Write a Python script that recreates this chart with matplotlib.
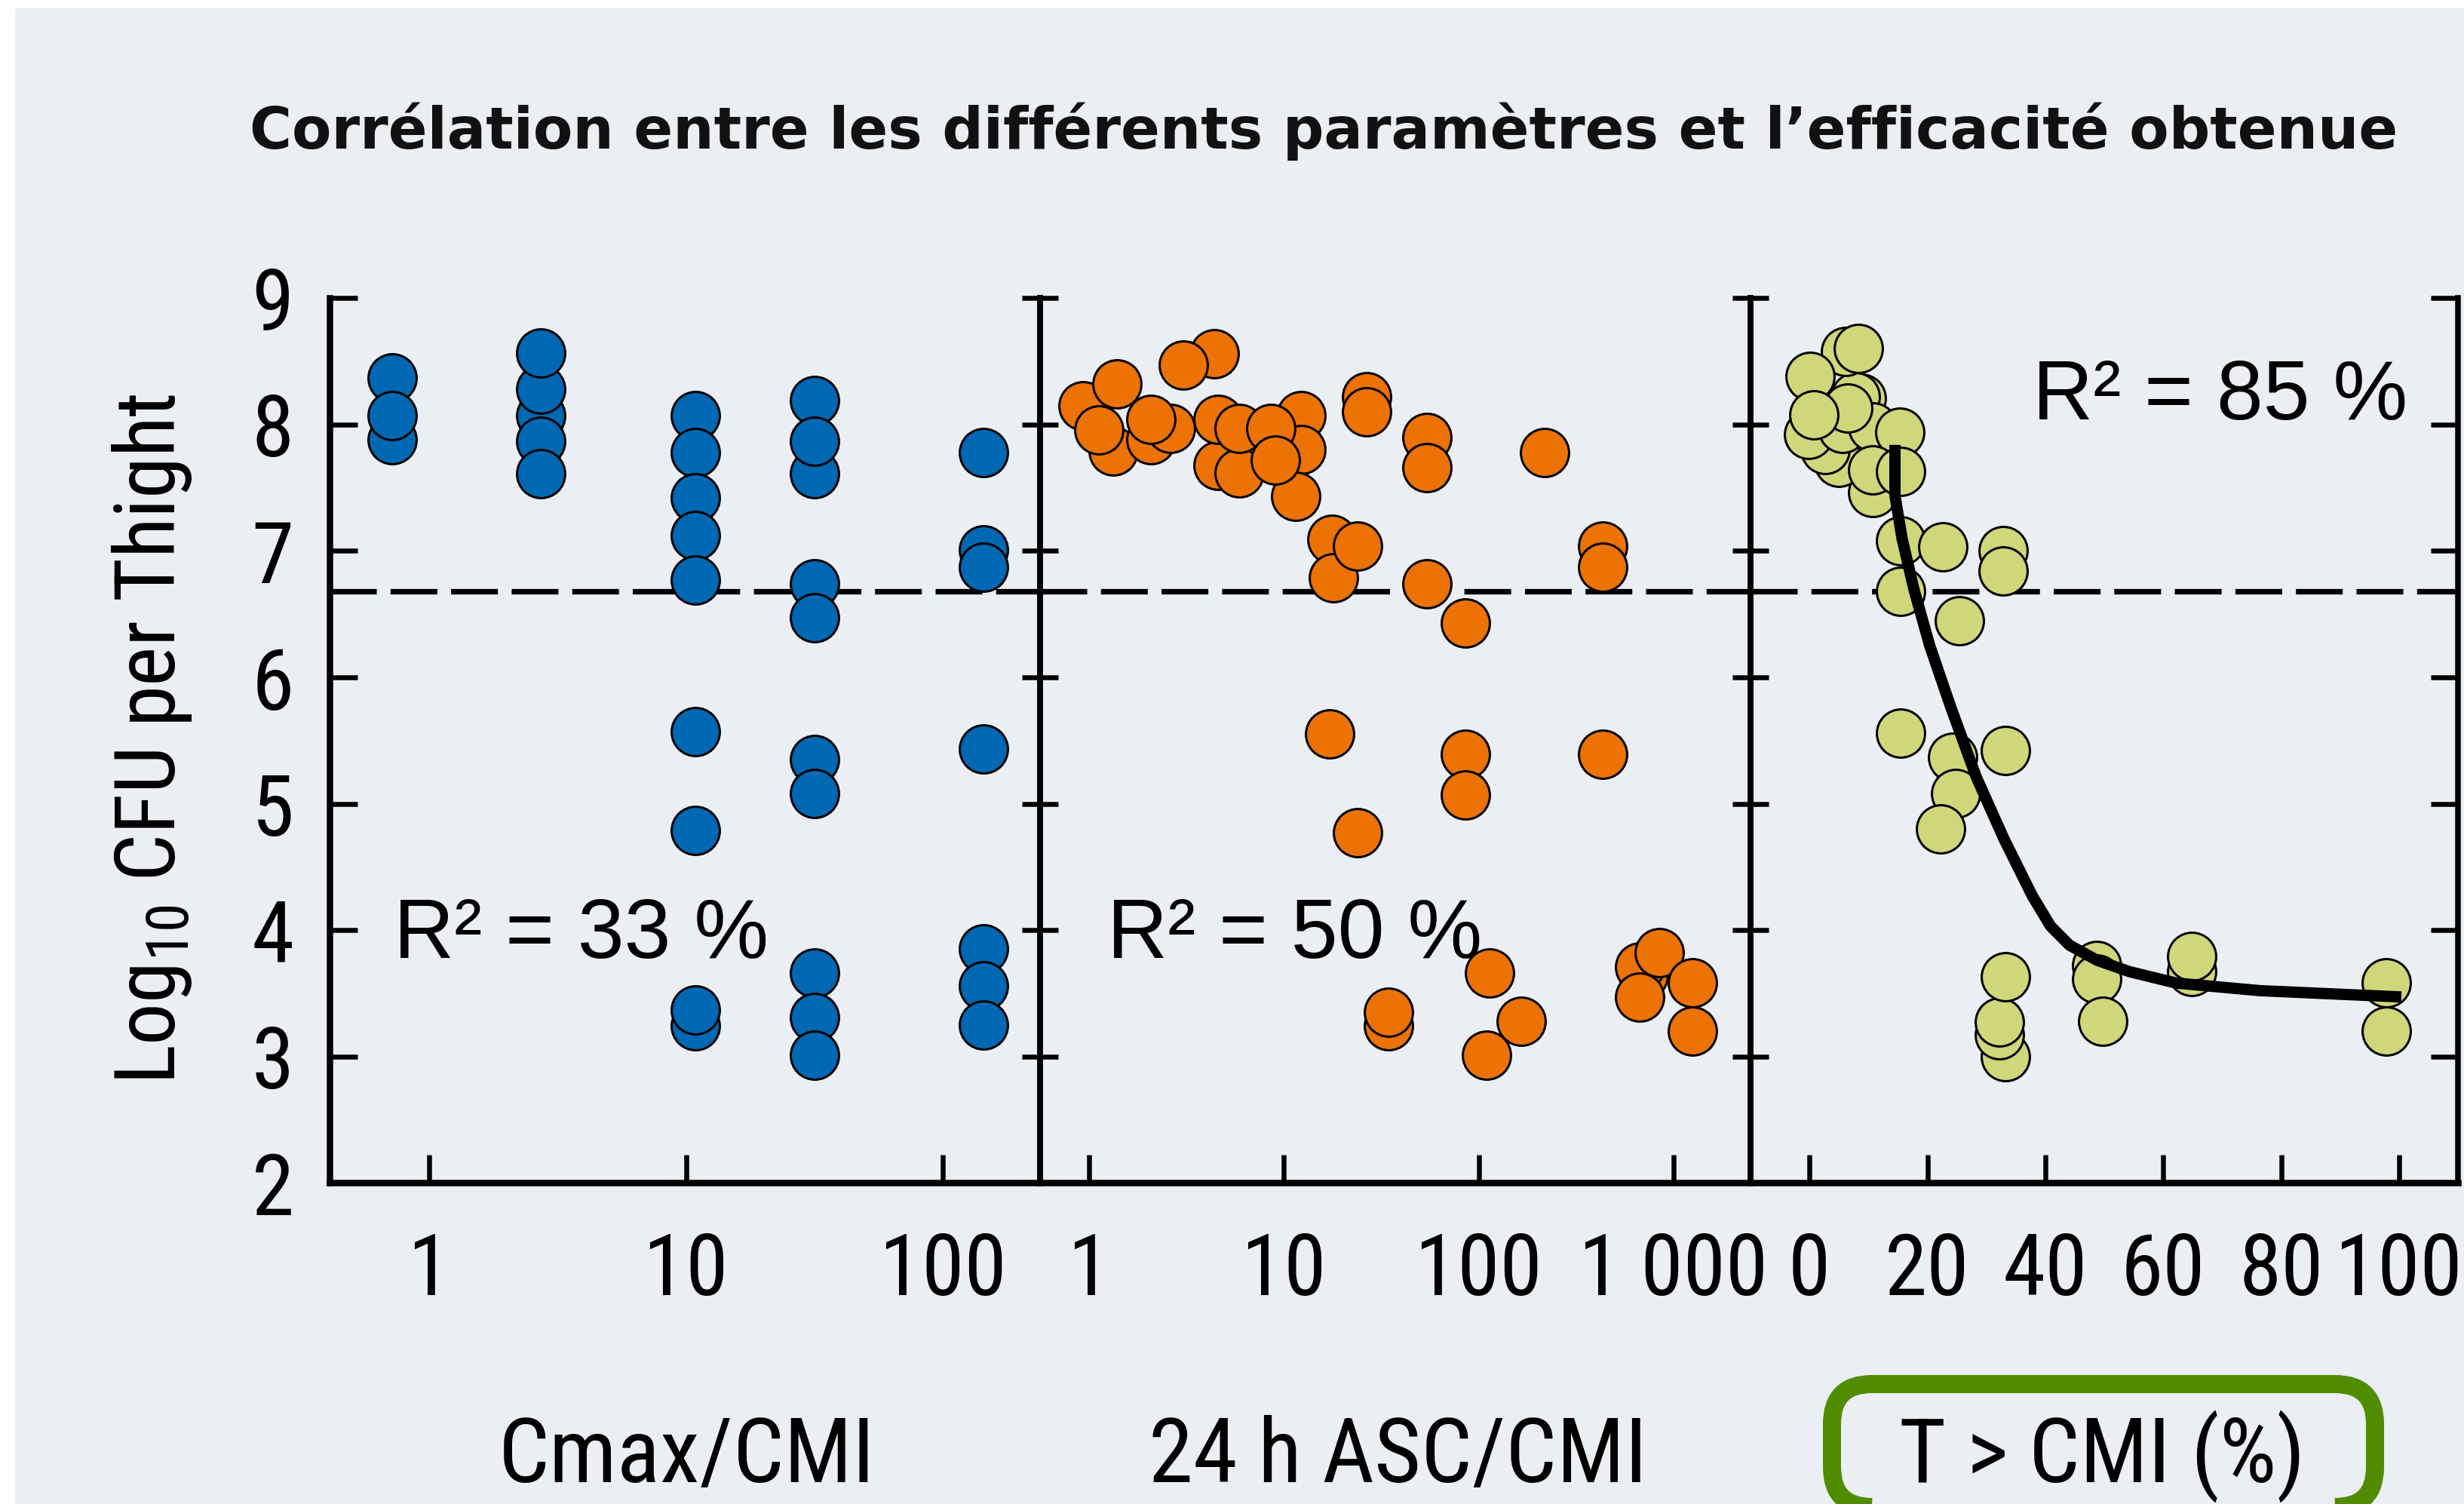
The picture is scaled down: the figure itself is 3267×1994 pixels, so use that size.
import os
import matplotlib
matplotlib.use('Agg')
import matplotlib.pyplot as plt
from matplotlib import font_manager
from matplotlib.font_manager import FontProperties
from matplotlib.patches import FancyBboxPatch, Rectangle
from matplotlib.ticker import FixedLocator, NullLocator


def find_narrow_font():
    """Pick a regular condensed/narrow face among the installed fonts."""
    order = ['liberation', 'roboto', 'dejavu', 'noto', 'opensans', 'open']
    found = []
    for f in font_manager.fontManager.ttflist:
        base = os.path.basename(f.fname).lower().replace(' ', '')
        if not ('narrow' in base or 'condensed' in base):
            continue
        if f.style != 'normal' or f.weight != 400:
            continue
        if any(w in base for w in ('bold', 'italic', 'light', 'medium', 'semi', 'extra', 'black', 'thin', 'oblique')):
            continue
        rank = next((i for i, key in enumerate(order) if base.startswith(key)), len(order))
        found.append((rank, f.fname))
    return FontProperties(fname=sorted(found)[0][1]) if found else FontProperties(family='DejaVu Sans')


NARROW = find_narrow_font()
plt.rcParams['font.family'] = 'Liberation Sans'

# Cmax/CMI panel
cmax_x = [0.72, 0.72, 0.72,
          2.72, 2.72, 2.72, 2.72, 2.72,
          10.9, 10.9, 10.9, 10.9, 10.9, 10.9, 10.9, 10.9, 10.9,
          31.6, 31.6, 31.6, 31.6, 31.6, 31.6, 31.6, 31.6, 31.6, 31.6,
          143.7, 143.7, 143.7, 143.7, 143.7, 143.7, 143.7]
cmax_y = [8.37, 7.88, 8.07,
          8.07, 7.87, 7.61, 8.28, 8.57,
          8.07, 7.78, 7.42, 7.12, 6.77, 5.57, 4.79, 3.24, 3.37,
          7.61, 8.19, 7.87, 6.74, 6.47, 5.35, 5.08, 3.66, 3.31, 3.01,
          7.78, 7.01, 6.87, 5.43, 3.85, 3.56, 3.25]

# 24 h ASC/CMI panel
auc_x = [0.93, 1.33, 1.39, 1.12, 2.08, 2.61, 2.08, 4.38, 3.04, 4.58, 5.90, 4.58, 5.90,
         12.2, 12.2, 11.5, 8.55, 9.08, 17.7, 17.9, 23.9,
         26.7, 26.7, 54.4, 54.4, 54.4, 85.3, 217, 434, 434,
         17.2, 23.9, 85.3, 85.3, 434,
         34.5, 34.5, 114, 165, 109.6,
         699, 671, 848, 671, 1256, 1256]
auc_y = [8.15, 7.79, 8.32, 7.96, 7.88, 7.97, 8.04, 8.56, 8.47, 7.68, 7.62, 8.04, 7.97,
         8.07, 7.80, 7.43, 7.97, 7.72, 7.09, 6.79, 7.04,
         8.22, 8.10, 7.90, 7.66, 6.74, 6.43, 7.78, 7.04, 6.87,
         5.55, 4.77, 5.39, 5.07, 5.39,
         3.24, 3.35, 3.66, 3.28, 3.01,
         3.64, 3.71, 3.82, 3.47, 3.58, 3.20]

# T > CMI (%) panel
tmic_x = [10.7, 5.0, 2.7, -0.1, 5.6, 8.8, 7.8, 6.1, 8.3, 0.1, 10.7, 6.5, 0.8,
          15.3, 10.7, 15.5, 15.5, 22.6, 32.8, 32.8, 15.5, 25.5,
          15.4, 24.3, 33.2, 24.8, 22.2,
          33.2, 32.2, 32.2, 33.2,
          48.7, 48.7, 49.7, 64.9, 64.9, 97.9, 97.9]
tmic_y = [7.46, 7.70, 7.80, 7.92, 7.97, 8.21, 8.22, 8.58, 8.60, 8.38, 7.98, 8.13, 8.08,
          7.94, 7.64, 7.63, 7.08, 7.03, 7.00, 6.84, 6.68, 6.45,
          5.56, 5.37, 5.42, 5.08, 4.80,
          3.00, 3.17, 3.27, 3.63,
          3.72, 3.61, 3.28, 3.67, 3.79, 3.58, 3.20]

# fitted sigmoid for T > CMI
curve_x = [14.5, 14.5, 15.7, 17.7, 20.4, 24.0, 28.3, 33.0, 37.8, 40.9, 44.1, 48.8, 54.3, 62.2, 76.4, 100.4]
curve_y = [7.84, 7.44, 7.10, 6.70, 6.25, 5.76, 5.21, 4.72, 4.27, 4.03, 3.88, 3.76, 3.67, 3.58, 3.52, 3.47]

threshold = 6.68
r2_values = [33, 50, 85]
panel_titles = ['Cmax/CMI', '24 h ASC/CMI', 'T > CMI (%)']
log_ticks_1 = [1, 10, 100]
log_labels_1 = ['1', '10', '100']
log_ticks_2 = [1, 10, 100, 1000]
log_labels_2 = ['1', '10', '100', '1 000']
lin_ticks_3 = [0, 20, 40, 60, 80, 100]
y_ticks = [2, 3, 4, 5, 6, 7, 8, 9]

W, H = 3267, 1994
BG = '#EBEEF3'
BLUE, ORANGE, OLIVE = '#0068B2', '#EC7204', '#D0D67A'
GREEN = '#508C00'

fig = plt.figure(figsize=(W / 100, H / 100), dpi=100, facecolor='white')
fig.add_artist(Rectangle((20 / W, 0), 1, 1 - 11 / H, transform=fig.transFigure,
                         facecolor=BG, edgecolor='none', zorder=-10))

top, bottom = 395.5, 1568
def make_ax(x0, x1):
    return fig.add_axes([x0 / W, 1 - bottom / H, (x1 - x0) / W, (bottom - top) / H])

ax1 = make_ax(437, 1379)
ax2 = make_ax(1379, 2321)
ax3 = make_ax(2321, 3259)

px = 72 / 100  # pixels -> points
for ax in (ax1, ax2, ax3):
    ax.set_facecolor('none')
    ax.spines['top'].set_visible(False)
    for s in ('left', 'right', 'bottom'):
        ax.spines[s].set_linewidth(7.5 * px)
        ax.spines[s].set_zorder(5)
    ax.spines['bottom'].set_linewidth(8.5 * px)
    ax.set_ylim(2, 9)
    ax.set_yticks(y_ticks)
    ax.tick_params(axis='x', which='major', direction='in', length=37 * px, width=6.5 * px, pad=46)
    ax.axhline(threshold, color='black', lw=7.3 * px, linestyle=(0, (8.5, 2.5)), zorder=1)
ax1.spines['left'].set_linewidth(8.5 * px)

# y ticks: long on the outer frame, short on the panel dividers
ax1.tick_params(axis='y', which='major', direction='in', left=True, right=False,
                length=37 * px, width=6.5 * px, pad=34)
ax1.yaxis.set_minor_locator(FixedLocator(y_ticks))
ax1.yaxis.remove_overlapping_locs = False
ax1.tick_params(axis='y', which='minor', direction='in', left=False, right=True,
                length=24 * px, width=6.5 * px)

ax2.tick_params(axis='y', which='major', direction='in', left=True, right=True,
                length=24 * px, width=6.5 * px, labelleft=False)

ax3.tick_params(axis='y', which='major', direction='in', left=True, right=False,
                length=24 * px, width=6.5 * px, labelleft=False)
ax3.yaxis.set_minor_locator(FixedLocator(y_ticks))
ax3.yaxis.remove_overlapping_locs = False
ax3.tick_params(axis='y', which='minor', direction='in', left=False, right=True,
                length=36 * px, width=6.5 * px)

# x scales
ax1.set_xscale('log')
ax1.set_xlim(0.41, 239)
ax1.set_xticks(log_ticks_1, log_labels_1)

ax2.set_xscale('log')
ax2.set_xlim(0.56, 2485)
ax2.set_xticks(log_ticks_2, log_labels_2)

ax3.set_xlim(-10, 110)
ax3.set_xticks(lin_ticks_3, [str(t) for t in lin_ticks_3])

for ax in (ax1, ax2, ax3):
    ax.xaxis.set_minor_locator(NullLocator())
    for lab in ax.get_xticklabels() + ax.get_yticklabels():
        lab.set_fontproperties(NARROW)
        lab.set_fontsize(82)

mk = dict(s=46 ** 2, edgecolors='black', linewidths=3 * px, zorder=3, clip_on=False)
ax1.scatter(cmax_x, cmax_y, c=BLUE, **mk)
ax2.scatter(auc_x, auc_y, c=ORANGE, **mk)
ax3.scatter(tmic_x, tmic_y, c=OLIVE, **mk)
ax3.plot(curve_x, curve_y, color='black', lw=15 * px, solid_joinstyle='round',
         solid_capstyle='butt', zorder=4)

# R² annotations
r2_kw = dict(fontsize=80, ha='left', va='baseline', zorder=6)
ax1.text(0.728, 3.78, f'R² = {r2_values[0]} %', **r2_kw)
ax2.text(1.24, 3.78, f'R² = {r2_values[1]} %', **r2_kw)
ax3.text(37.8, 8.04, f'R² = {r2_values[2]} %', **r2_kw)

fig.text(1755 / W, 1 - 197 / H,
         'Corrélation entre les différents paramètres et l’efficacité obtenue',
         ha='center', va='baseline', fontfamily='DejaVu Sans', fontweight='bold',
         fontsize=55, color='#111111')

fig.text(232 / W, 1 - 980 / H, 'Log$_{\\mathdefault{10}}$ CFU per Thight', rotation=90,
         rotation_mode='anchor', ha='center', va='baseline', fontproperties=NARROW, fontsize=80)

for cx, label in zip([911, 1854, 2787], panel_titles):
    fig.text(cx / W, 1 - 1965 / H, label, ha='center', va='baseline',
             fontproperties=NARROW, fontsize=86)

# highlight box around the best predictor
fig.add_artist(FancyBboxPatch((2429, -4), 720, 163, boxstyle='round,pad=0,rounding_size=53',
                              transform=None, facecolor='none', edgecolor=GREEN,
                              linewidth=24 * px))

fig.savefig('out.png', dpi=100, facecolor=fig.get_facecolor())
